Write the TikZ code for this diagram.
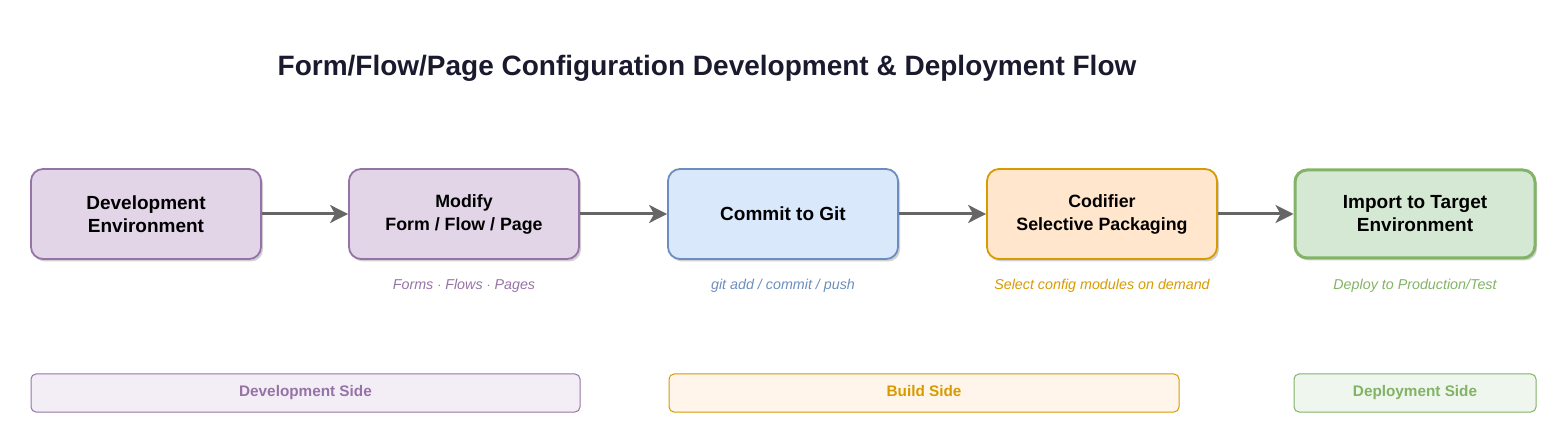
\documentclass[tikz,border=0pt]{standalone}
\usepackage{fontspec}
\setmainfont{Liberation Sans}
\usepackage{xcolor}
\usepackage{tikz}
\usetikzlibrary{shapes,arrows,positioning,calc,shadows,arrows.meta}

\definecolor{purpleFill}{HTML}{E1D5E7}
\definecolor{purpleLine}{HTML}{9673A6}
\definecolor{blueFill}{HTML}{DAE8FC}
\definecolor{blueLine}{HTML}{6C8EBF}
\definecolor{orangeFill}{HTML}{FFE6CC}
\definecolor{orangeLine}{HTML}{D79B00}
\definecolor{greenFill}{HTML}{D5E8D4}
\definecolor{greenLine}{HTML}{82B366}
\definecolor{arrowGray}{HTML}{666666}
\definecolor{titleInk}{HTML}{1A1A2E}

\tikzset{
  stagebox/.style={draw, rounded corners=12pt, line width=1.8pt, minimum width=230pt,
    minimum height=90pt, align=center, font=\fontsize{19}{23}\selectfont\bfseries,
    drop shadow={shadow xshift=2pt, shadow yshift=-2.5pt, opacity=0.18, fill=black}},
  smalltext/.style={font=\fontsize{17.8}{23}\selectfont\bfseries},
  notetext/.style={font=\fontsize{14.3}{17}\selectfont\itshape, text height=10.5pt, text depth=3pt},
  sidebox/.style={draw, rounded corners=5pt, line width=1pt, minimum height=38pt,
    text height=11pt, text depth=3.5pt, font=\fontsize{15.3}{18}\selectfont\bfseries},
  flow/.style={-{Stealth[length=18pt,width=18pt,inset=5pt]}, line width=3pt, draw=arrowGray}
}

\begin{document}
\begin{tikzpicture}[x=1pt, y=-1pt]
    \useasboundingbox (0,0) rectangle (1566,435);
    \node[font=\fontsize{28}{33}\selectfont\bfseries, text=titleInk] (title) at (707,68)
      {Form/Flow/Page Configuration Development \& Deployment Flow};

    % stages
    \node[stagebox, fill=purpleFill, draw=purpleLine] (dev) at (146,214) {Development\\Environment};
    \node[stagebox, smalltext, fill=purpleFill, draw=purpleLine] (mod) at (464,214) {Modify\\Form / Flow / Page};
    \node[stagebox, fill=blueFill, draw=blueLine] (git) at (783,214) {Commit to Git};
    \node[stagebox, smalltext, fill=orangeFill, draw=orangeLine] (cod) at (1102,214) {Codifier\\Selective Packaging};
    \node[stagebox, fill=greenFill, draw=greenLine, line width=3pt, minimum width=240pt,
      minimum height=88pt] (imp) at (1415,214) {Import to Target\\Environment};

    \draw[flow] (dev) -- (mod);
    \draw[flow] (mod) -- (git);
    \draw[flow] (git) -- (cod);
    \draw[flow] (cod) -- (imp);

    % notes under the stages
    \node[notetext, text=purpleLine] (modnote) at (464,286) {Forms $\cdot$ Flows $\cdot$ Pages};
    \node[notetext, text=blueLine] (gitnote) at (783,286) {git add / commit / push};
    \node[notetext, text=orangeLine] (codnote) at (1102,286) {Select config modules on demand};
    \node[notetext, text=greenLine] (impnote) at (1415,286) {Deploy to Production/Test};

    % sides
    \node[sidebox, minimum width=549pt, fill=purpleFill!40, draw=purpleLine, text=purpleLine]
      (devside) at (305.5,393) {Development Side};
    \node[sidebox, minimum width=510pt, fill=orangeFill!40, draw=orangeLine, text=orangeLine]
      (buildside) at (924,393) {Build Side};
    \node[sidebox, minimum width=242pt, fill=greenFill!40, draw=greenLine, text=greenLine]
      (depside) at (1415,393) {Deployment Side};
\end{tikzpicture}
\end{document}
